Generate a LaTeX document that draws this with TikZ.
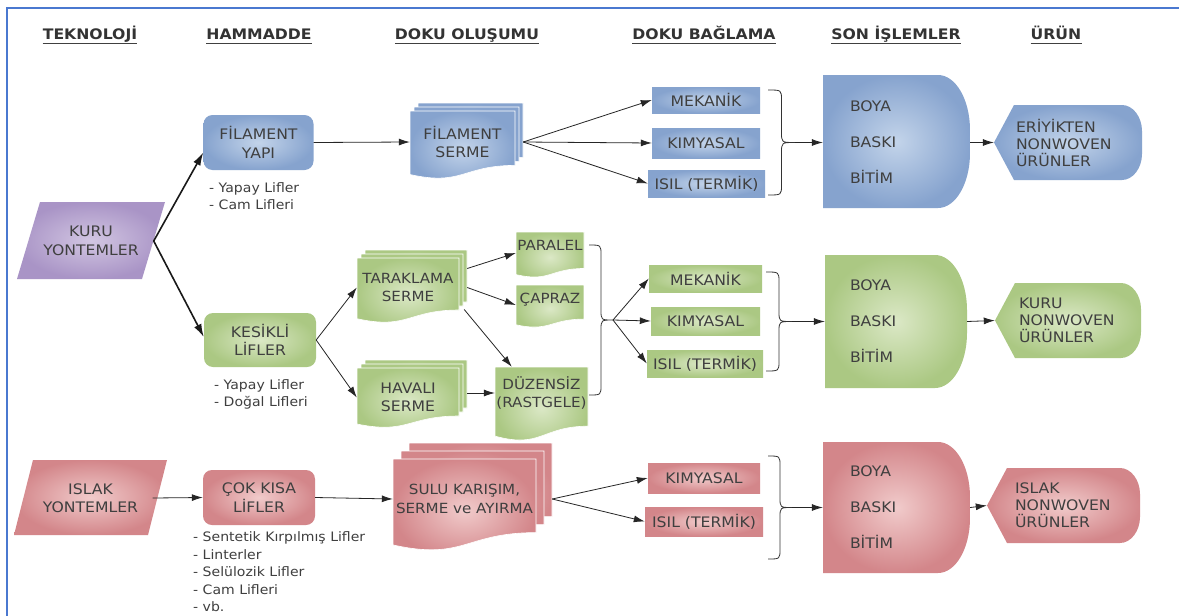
\documentclass[tikz,border=0pt]{standalone}
\usepackage{fontspec}
\setmainfont[FakeStretch=1.08]{DejaVu Sans}
\usetikzlibrary{arrows.meta,calc}

\definecolor{blA}{HTML}{86A3CE}
\definecolor{blB}{HTML}{C3D4EA}
\definecolor{grA}{HTML}{ABC883}
\definecolor{grB}{HTML}{DBE8C6}
\definecolor{rdA}{HTML}{D3868A}
\definecolor{rdB}{HTML}{F1CBCB}
\definecolor{puA}{HTML}{A994C6}
\definecolor{puB}{HTML}{D2C6E2}
\definecolor{txt}{HTML}{3F3F3F}
\definecolor{framec}{HTML}{4A78D0}

% one document page: L T R H style
\newcommand\shapeDoc[5]{%
  \shadedraw[#5, draw=white, line width=0.6pt] (#1,#2) -- (#3,#2) -- (#3,{#2+0.8*#4})
    .. controls ({(#1+#3)/2},{#2+0.8*#4}) and ({(#1+#3)/2},{#2+1.107*#4}) .. (#1,{#2+0.934*#4}) -- cycle;}
% stack of three pages: front L T R H, offset d, style
\newcommand\shapeMDoc[6]{%
  \shapeDoc{#1+2*#5}{#2-2*#5}{#3+2*#5}{#4}{#6}%
  \shapeDoc{#1+#5}{#2-#5}{#3+#5}{#4}{#6}%
  \shapeDoc{#1}{#2}{#3}{#4}{#6}}
% D shape: L T R B style
\newcommand\shapeD[5]{%
  \shade[#5] (#1,#2) -- ({#3-32},#2) .. controls ({#3-14.3},#2) and (#3,{#2+24.6}) .. (#3,{#2+55})
    -- (#3,{#4-55}) .. controls (#3,{#4-24.6}) and ({#3-14.3},#4) .. ({#3-32},#4) -- (#1,#4) -- cycle;}
% display shape: P T R B style
\newcommand\shapeP[5]{%
  \shade[#5] (#1,{(#2+#4)/2}) -- ({#1+20},#2) -- ({#3-20},#2) .. controls ({#3-9},#2) and (#3,{#2+12}) .. (#3,{#2+26})
    -- (#3,{#4-26}) .. controls (#3,{#4-12}) and ({#3-9},#4) .. ({#3-20},#4) -- ({#1+20},#4) -- cycle;}
% curly brace: x0 ytop ybottom tipx name
\newcommand\shapeBrace[5]{%
  \coordinate (#5) at (#4,{(#2+#3)/2});
  \draw[brc] (#1,#2) .. controls ({(#1+#4)/2},#2) .. ({(#1+#4)/2},{#2+10})
    -- ({(#1+#4)/2},{(#2+#3)/2-10}) .. controls ({(#1+#4)/2},{(#2+#3)/2}) .. (#5)
    .. controls ({(#1+#4)/2},{(#2+#3)/2}) .. ({(#1+#4)/2},{(#2+#3)/2+10})
    -- ({(#1+#4)/2},{#3-10}) .. controls ({(#1+#4)/2},#3) .. (#1,#3);}

\begin{document}
\begin{tikzpicture}[x=1pt,y=-1pt,
  blu/.style={inner color=blB, outer color=blA},
  grn/.style={inner color=grB, outer color=grA},
  pnk/.style={inner color=rdB, outer color=rdA},
  pur/.style={inner color=puB, outer color=puA},
  bt/.style={font=\fontsize{14.5}{18.5}\selectfont, text=txt, align=center, inner sep=0pt},
  smt/.style={font=\fontsize{14}{18.5}\selectfont},
  rbox/.style={bt, shade, rounded corners=9pt},
  rectbox/.style={bt, shade},
  sonbox/.style={bt, font=\fontsize{14.5}{36}\selectfont, align=left, inner ysep=0pt},
  prodbox/.style={bt, font=\fontsize{14.5}{17}\selectfont, align=left, inner ysep=0pt},
  note/.style={font=\fontsize{13}{17.5}\selectfont, text=txt, align=left, inner sep=0pt},
  hdr/.style={font=\bfseries\fontsize{14.5}{17}\selectfont, text=black!80, inner sep=0pt, text depth=0pt, anchor=base},
  uline/.style={draw=black!75, line width=1.2pt},
  arr/.style={draw=black!85, line width=0.8pt, -{Latex[length=11pt,width=7pt]}},
  thk/.style={draw=black!90, line width=1.6pt, -{Latex[length=13pt,width=8pt]}},
  brc/.style={draw=black!80, line width=0.8pt}
]
\useasboundingbox (0,0) rectangle (1179,616);
\fill[white] (0,0) rectangle (1179,616);
\draw[framec, line width=2.5pt] (7,616) -- (7,8) -- (1179,8);

% ---------- headers
\node[hdr] (h1) at (90,39.5) {TEKNOLOJİ};
\node[hdr] (h2) at (259,39.5) {HAMMADDE};
\node[hdr] (h3) at (467,39.5) {DOKU OLUŞUMU};
\node[hdr] (h4) at (704,39.5) {DOKU BAĞLAMA};
\node[hdr] (h5) at (896,39.5) {SON İŞLEMLER};
\node[hdr] (h6) at (1056,39.5) {ÜRÜN};
\foreach \h in {h1,h2,h3,h4,h5,h6}
  \draw[uline] ([yshift=-3.5pt]\h.south west) -- ([yshift=-3.5pt]\h.south east);

% ---------- blue row
\shade[pur] (40,202) -- (165,202) -- (142,279) -- (17,279) -- cycle;
\node[bt, minimum width=125pt, minimum height=60pt] (kuru) at (91,241) {KURU\\YONTEMLER};

\node[rbox, blu, minimum width=110pt, minimum height=55pt] (fyapi) at (258.5,142.5) {FİLAMENT\\YAPI};
\node[note, anchor=west] (n1) at (209,196) {- Yapay Lifler\\- Cam Lifleri};

\shapeMDoc{410}{111}{515}{68}{4}{blu}
\node[bt, minimum width=105pt, minimum height=50pt] (fs) at (462.5,142) {FİLAMENT\\SERME};

\node[rectbox, blu, minimum width=108pt, minimum height=26pt] (mek1) at (706,100) {MEKANİK};
\node[rectbox, blu, minimum width=108pt, minimum height=30pt] (kim1) at (706,143) {KIMYASAL};
\node[rectbox, blu, minimum width=117pt, minimum height=27pt] (isil1) at (706.5,183.5) {ISIL (TERMİK)};

\shapeD{823}{75}{970}{208}{blu}
\node[sonbox, inner xsep=27pt, text width=93pt, minimum height=120pt] (son1) at (896.5,142.5) {BOYA\\BASKI\\BİTİM};
\shapeP{994}{105}{1142}{180}{blu}
\node[prodbox, inner xsep=22pt, text width=104pt, minimum height=70pt] (prod1) at (1068,142.5) {ERİYİKTEN\\NONWOVEN\\ÜRÜNLER};

\draw[thk] (kuru.east) -- ([yshift=-10pt]fyapi.west);
\draw[arr] (fyapi.east) -- (fs.west);
\draw[arr] ([xshift=8pt]fs.east) -- (mek1.west);
\draw[arr] ([xshift=8pt]fs.east) -- (kim1.west);
\draw[arr] ([xshift=8pt]fs.east) -- (isil1.west);
\shapeBrace{768}{90}{195}{795}{b1}
\draw[arr] (b1) -- (b1 -| son1.west);
\draw[arr] (son1.east) -- (prod1.west);

% ---------- green row
\node[rbox, grn, minimum width=112pt, minimum height=54pt] (kes) at (260,340) {KESİKLİ\\LİFLER};
\node[note, anchor=west] (n2) at (214,394.5) {- Yapay Lifler\\- Doğal Lifleri};

\shapeMDoc{357}{258}{459}{65}{4}{grn}
\node[bt, smt, minimum width=102pt, minimum height=40pt] (tar) at (408,287.5) {TARAKLAMA\\SERME};
\shapeMDoc{357}{368}{459}{60}{4}{grn}
\node[bt, minimum width=102pt, minimum height=40pt] (hav) at (408,397.5) {HAVALI\\SERME};

\shapeDoc{516}{232}{584}{45.6}{grn}
\node[bt, smt, minimum width=68pt, minimum height=26pt] (par) at (550,245) {PARALEL};
\shapeDoc{516}{285}{584}{42.6}{grn}
\node[bt, smt, minimum width=68pt, minimum height=26pt] (cap) at (550,300) {ÇAPRAZ};
\shapeDoc{495}{367}{588}{74}{grn}
\node[bt, smt, minimum width=93pt, minimum height=52pt] (duz) at (541.5,393) {DÜZENSİZ\\(RASTGELE)};

\node[rectbox, grn, minimum width=113pt, minimum height=27pt] (mek2) at (705.5,278.5) {MEKANİK};
\node[rectbox, grn, minimum width=109pt, minimum height=28pt] (kim2) at (705.5,321) {KIMYASAL};
\node[rectbox, grn, minimum width=116pt, minimum height=27pt] (isil2) at (705,363.5) {ISIL (TERMİK)};

\shapeD{825}{255}{967}{388}{grn}
\node[sonbox, inner xsep=25pt, text width=92pt, minimum height=120pt] (son2) at (896,321.5) {BOYA\\BASKI\\BİTİM};
\shapeP{995}{283}{1141}{358}{grn}
\node[prodbox, inner xsep=24pt, text width=98pt, minimum height=70pt] (prod2) at (1068,320.5) {KURU\\NONWOVEN\\ÜRÜNLER};

\draw[thk] (kuru.east) -- ([yshift=3pt]kes.west);
\draw[arr] (kes.east) -- (tar.west);
\draw[arr] (kes.east) -- (hav.west);
\draw[arr] ($(tar.east)+(8,-19)$) -- ([yshift=-8pt]par.west);
\draw[arr] ($(tar.east)+(8,0)$) -- ([yshift=-5pt]cap.west);
\draw[arr] ($(tar.east)+(5,22)$) -- ($(duz.north west)+(17,0)$);
\draw[arr] ($(hav.east)+(8,-4.5)$) -- (duz.west);
\shapeBrace{589}{245}{395}{613}{b2}
\draw[arr] (b2) -- (mek2.west);
\draw[arr] (b2) -- (kim2.west);
\draw[arr] (b2) -- (isil2.west);
\shapeBrace{766}{272}{371}{792}{b3}
\draw[arr] (b3) -- (b3 -| son2.west);
\draw[arr] (son2.east) -- (prod2.west);

% ---------- red row
\shade[pnk] (33,460) -- (167,460) -- (148,535) -- (14,535) -- cycle;
\node[bt, minimum width=124pt, minimum height=60pt] (islak) at (90.5,498) {ISLAK\\YONTEMLER};

\node[rbox, pnk, minimum width=112pt, minimum height=55pt] (cok) at (259,497.5) {ÇOK KISA\\LİFLER};
\node[note, anchor=west] (n3) at (193,572) {- Sentetik Kırpılmış Lifler\\- Linterler\\- Selülozik Lifler\\- Cam Lifleri\\- vb.};

\shapeMDoc{393}{459}{536}{92}{8}{pnk}
\node[bt, smt, minimum width=143pt, minimum height=50pt] (sulu) at (464.5,499) {SULU KARIŞIM,\\SERME ve AYIRMA};

\node[rectbox, pnk, minimum width=112pt, minimum height=30pt] (kim3) at (704,478) {KIMYASAL};
\node[rectbox, pnk, minimum width=118pt, minimum height=29pt] (isil3) at (704,521.5) {ISIL (TERMİK)};

\shapeD{823}{442}{970}{573}{pnk}
\node[sonbox, inner xsep=27pt, text width=93pt, minimum height=120pt] (son3) at (896.5,507.5) {BOYA\\BASKI\\BİTİM};
\shapeP{987}{468}{1140}{543}{pnk}
\node[prodbox, inner xsep=28pt, text width=97pt, minimum height=70pt] (prod3) at (1063.5,505.5) {ISLAK\\NONWOVEN\\ÜRÜNLER};

\draw[arr] (islak.east) -- (cok.west);
\draw[arr] (cok.east) -- (sulu.west);
\draw[arr] ([xshift=16pt]sulu.east) -- (kim3.west);
\draw[arr] ([xshift=16pt]sulu.east) -- (isil3.west);
\shapeBrace{768}{456}{559}{792}{b4}
\draw[arr] (b4) -- (b4 -| son3.west);
\draw[arr] (son3.east) -- (prod3.west);
\end{tikzpicture}
\end{document}
